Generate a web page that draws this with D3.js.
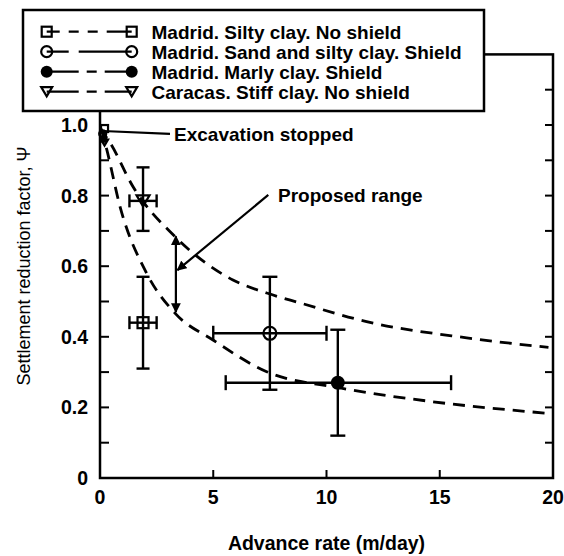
<!DOCTYPE html>
<html>
<head>
<meta charset="utf-8">
<script src="https://cdn.jsdelivr.net/npm/d3@7"></script>
<style>
  body { margin: 0; background: #fff; }
  svg { display: block; font-family: "Liberation Sans", Arial, sans-serif; }
</style>
</head>
<body>
<svg id="chart" width="564" height="556"></svg>
<script>
// series, in legend order
const seriesNames = [
  "Madrid. Silty clay. No shield",
  "Madrid. Sand and silty clay. Shield",
  "Madrid. Marly clay. Shield",
  "Caracas. Stiff clay. No shield"
];
const seriesSymbols = ["square", "circle", "filled", "triangle"];
const legendDash = ["13,9,10,9,10,9,25", "22,10,53", "32,8,10,8,27", "32,8,10,8,27"];

// measured points with their error ranges
const ptX = [1.9, 7.5, 10.5, 1.9];
const ptY = [0.44, 0.41, 0.27, 0.785];
const xLo = [1.3, 5.0, 5.55, 1.3];
const xHi = [2.5, 10.0, 15.5, 2.5];
const yLo = [0.31, 0.25, 0.12, 0.70];
const yHi = [0.57, 0.57, 0.42, 0.88];

// points at zero advance (excavation stopped)
const stopX = [0.2, 0.12, 0.15, 0.2];
const stopY = [0.99, 0.975, 0.96, 0.95];

// dashed bounds of proposed range
const upperX = [0, 0.44, 1.46, 3.31, 5.87, 7.36, 8.83, 11.77, 16.19, 19.8];
const upperY = [0.99, 0.95, 0.825, 0.684, 0.561, 0.524, 0.496, 0.443, 0.397, 0.37];
const lowerX = [0.05, 0.3, 0.88, 2.06, 3.31, 4.99, 7.36, 10.6, 14.7, 19.8];
const lowerY = [0.99, 0.93, 0.77, 0.58, 0.467, 0.391, 0.301, 0.255, 0.216, 0.183];

const xTicks = [0, 5, 10, 15, 20];
const yTicks = [0, 0.2, 0.4, 0.6, 0.8, 1.0];
const yMinor = d3.range(1, 12).map(d => d / 10);

const svg = d3.select("#chart");
const x = d3.scaleLinear().domain([0, 20]).range([100, 553]);
const y = d3.scaleLinear().domain([0, 1.2]).range([478, 54.4]);

// arrow head
svg.append("defs").append("marker")
  .attr("id", "head").attr("viewBox", "0 0 10 10")
  .attr("refX", 9).attr("refY", 5)
  .attr("markerWidth", 4.5).attr("markerHeight", 4.5)
  .attr("orient", "auto-start-reverse")
  .append("path").attr("d", "M0,0L10,5L0,10z").attr("fill", "#000");

// frame
svg.append("rect")
  .attr("x", x(0)).attr("y", y(1.2))
  .attr("width", x(20) - x(0)).attr("height", y(0) - y(1.2))
  .attr("fill", "none").attr("stroke", "#000").attr("stroke-width", 2.5);

// ticks, inward
svg.append("g").selectAll("line").data(yMinor).join("line")
  .attr("x1", x(0)).attr("x2", x(0) + 9)
  .attr("y1", d => y(d)).attr("y2", d => y(d))
  .attr("stroke", "#000").attr("stroke-width", 2);
svg.append("g").selectAll("line").data(yMinor).join("line")
  .attr("x1", x(20)).attr("x2", x(20) - 8)
  .attr("y1", d => y(d)).attr("y2", d => y(d))
  .attr("stroke", "#000").attr("stroke-width", 2);
svg.append("g").selectAll("line").data(xTicks.slice(1, -1)).join("line")
  .attr("x1", d => x(d)).attr("x2", d => x(d))
  .attr("y1", y(0)).attr("y2", y(0) - 8)
  .attr("stroke", "#000").attr("stroke-width", 2);

// tick labels
svg.append("g").selectAll("text").data(yTicks).join("text")
  .attr("x", 88).attr("y", d => y(d)).attr("dy", "0.36em")
  .attr("text-anchor", "end").attr("font-size", 19.5).attr("font-weight", "bold")
  .text(d => d === 0 ? "0" : d.toFixed(1));
svg.append("g").selectAll("text").data(xTicks).join("text")
  .attr("x", d => x(d)).attr("y", 497).attr("dy", "0.36em")
  .attr("text-anchor", "middle").attr("font-size", 19.5).attr("font-weight", "bold")
  .text(d => d);

// axis titles
svg.append("text")
  .attr("x", x(10)).attr("y", 543).attr("dy", "0.36em")
  .attr("text-anchor", "middle").attr("font-size", 19.5).attr("font-weight", "bold")
  .text("Advance rate (m/day)");
svg.append("text")
  .attr("transform", "translate(24,266) rotate(-90)").attr("dy", "0.36em")
  .attr("text-anchor", "middle").attr("font-size", 18)
  .text("Settlement reduction factor, Ψ");

// dashed curves
const line = d3.line().x(d => x(d[0])).y(d => y(d[1])).curve(d3.curveMonotoneX);
[[upperX, upperY], [lowerX, lowerY]].forEach(([xs, ys]) => {
  svg.append("path")
    .attr("d", line(xs.map((v, i) => [v, ys[i]])))
    .attr("fill", "none").attr("stroke", "#000")
    .attr("stroke-width", 2.8).attr("stroke-dasharray", "12,8");
});

// error bars
const eb = svg.append("g").attr("stroke", "#000").attr("stroke-width", 2.4);
ptX.forEach((px, i) => {
  const cap = i === 0 || i === 3 ? 6.5 : 7.5;
  eb.append("line").attr("x1", x(px)).attr("x2", x(px)).attr("y1", y(yLo[i])).attr("y2", y(yHi[i]));
  eb.append("line").attr("x1", x(xLo[i])).attr("x2", x(xHi[i])).attr("y1", y(ptY[i])).attr("y2", y(ptY[i]));
  [yLo[i], yHi[i]].forEach(v => eb.append("line")
    .attr("x1", x(px) - cap).attr("x2", x(px) + cap).attr("y1", y(v)).attr("y2", y(v)));
  [xLo[i], xHi[i]].forEach(v => eb.append("line")
    .attr("x1", x(v)).attr("x2", x(v)).attr("y1", y(ptY[i]) - cap).attr("y2", y(ptY[i]) + cap));
});

function symbol(g, kind, cx, cy, s) {
  if (kind === "square") {
    g.append("rect").attr("x", cx - s / 2).attr("y", cy - s / 2).attr("width", s).attr("height", s)
      .attr("fill", "none").attr("stroke", "#000").attr("stroke-width", 2.2);
  } else if (kind === "circle") {
    g.append("circle").attr("cx", cx).attr("cy", cy).attr("r", s / 2)
      .attr("fill", "none").attr("stroke", "#000").attr("stroke-width", 2.2);
  } else if (kind === "filled") {
    g.append("circle").attr("cx", cx).attr("cy", cy).attr("r", s / 2 + 0.5).attr("fill", "#000");
  } else {
    const h = s * 0.85;
    g.append("path")
      .attr("d", `M${cx - s / 2},${cy - h / 2}L${cx + s / 2},${cy - h / 2}L${cx},${cy + h / 2}Z`)
      .attr("fill", "none").attr("stroke", "#000").attr("stroke-width", 2.2);
  }
}

const marks = svg.append("g");
ptX.forEach((px, i) => symbol(marks, seriesSymbols[i], x(px), y(ptY[i]), i === 0 ? 11 : 13));
stopX.forEach((px, i) => symbol(marks, seriesSymbols[i], x(px), y(stopY[i]), 7));

// proposed range arrows
svg.append("line")
  .attr("x1", x(3.35)).attr("x2", x(3.35)).attr("y1", y(0.47)).attr("y2", y(0.685))
  .attr("stroke", "#000").attr("stroke-width", 2.2)
  .attr("marker-start", "url(#head)").attr("marker-end", "url(#head)");
svg.append("line")
  .attr("x1", x(7.43)).attr("y1", y(0.802)).attr("x2", x(3.42)).attr("y2", y(0.589))
  .attr("stroke", "#000").attr("stroke-width", 2.2).attr("marker-end", "url(#head)");
svg.append("text")
  .attr("x", x(7.86)).attr("y", y(0.80)).attr("dy", "0.36em")
  .attr("font-size", 19).attr("font-weight", "bold").text("Proposed range");

// excavation stopped
svg.append("line")
  .attr("x1", x(0.13)).attr("y1", y(0.983)).attr("x2", x(3.09)).attr("y2", y(0.975))
  .attr("stroke", "#000").attr("stroke-width", 2.2);
svg.append("text")
  .attr("x", x(3.27)).attr("y", y(0.975)).attr("dy", "0.36em")
  .attr("font-size", 19).attr("font-weight", "bold").text("Excavation stopped");

// legend
const lg = svg.append("g");
lg.append("rect").attr("x", 23).attr("y", 10).attr("width", 461).attr("height", 101)
  .attr("fill", "#fff").attr("stroke", "#000").attr("stroke-width", 2.5);
seriesNames.forEach((name, i) => {
  const ry = 31.7 + i * 20;
  lg.append("line").attr("x1", 46.7).attr("x2", 131.7).attr("y1", ry).attr("y2", ry)
    .attr("stroke", "#000").attr("stroke-width", 2.2).attr("stroke-dasharray", legendDash[i]);
  const s = seriesSymbols[i] === "square" ? 10 : 11;
  symbol(lg, seriesSymbols[i], 46.7, ry, s);
  symbol(lg, seriesSymbols[i], 131.7, ry, s);
  lg.append("text").attr("x", 151.5).attr("y", ry).attr("dy", "0.36em")
    .attr("font-size", 19).attr("font-weight", "bold").text(name);
});
</script>
</body>
</html>
